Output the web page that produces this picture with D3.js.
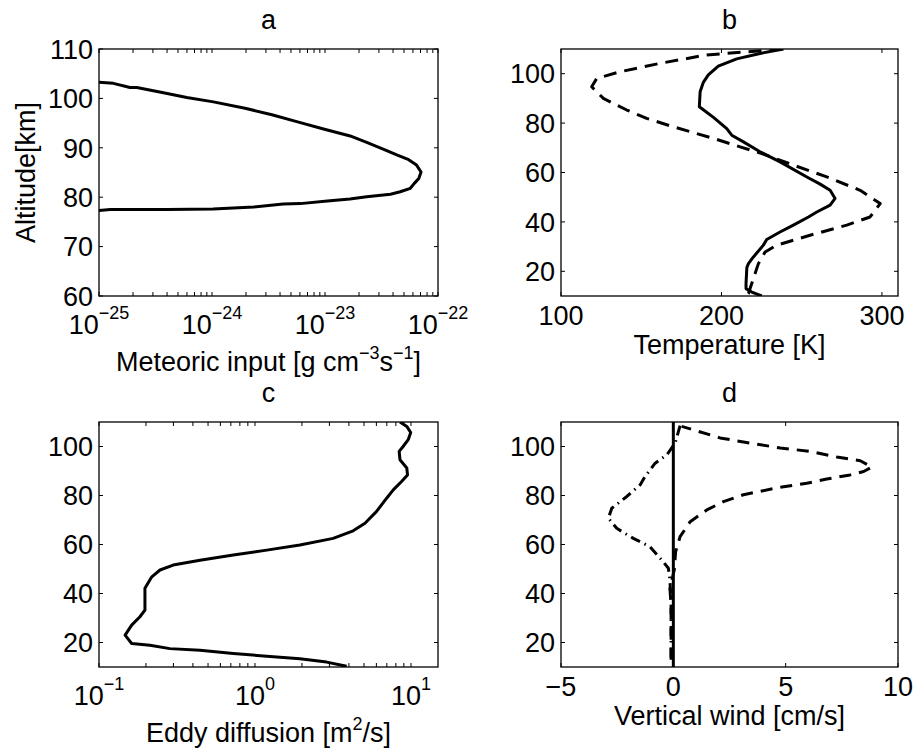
<!DOCTYPE html>
<html>
<head>
<meta charset="utf-8">
<script src="https://cdn.jsdelivr.net/npm/d3@7"></script>
<style>
  html, body { margin: 0; padding: 0; background: #fff; }
  text { font-family: "Liberation Sans", Arial, Helvetica, sans-serif; fill: #000; }
</style>
</head>
<body>
<svg id="chart" width="916" height="748"></svg>
<script>
// ---------- DATA ----------
// Panel a: meteoric input vs altitude
const metAlt   = [103.25,103.05,102.2,102.2,101.15,100.2,99.3,98.0,96.7,95.3,93.8,92.4,91.1,89.7,88.5,87.6,86.5,85.1,83.8,82.8,81.8,81.1,80.6,80.1,79.65,79.25,78.7,78.6,78.0,77.6,77.5,77.5,77.3];
const metInput = [1.0e-25,1.34e-25,1.88e-25,2.16e-25,3.72e-25,5.98e-25,1.03e-24,1.96e-24,3.39e-24,5.62e-24,9.7e-24,1.67e-23,2.34e-23,3.31e-23,4.37e-23,5.5e-23,6.46e-23,7.08e-23,6.76e-23,6.17e-23,5.69e-23,4.63e-23,3.8e-23,2.34e-23,1.66e-23,1.05e-23,6.03e-24,4.27e-24,2.34e-24,1.02e-24,3.98e-25,1.26e-25,1.0e-25];
const metTicks = [1e-25,1e-24,1e-23,1e-22];
const metTickExp = ["\u221225","\u221224","\u221223","\u221222"];
const altTicksA = [60,70,80,90,100,110];

// Panel b: temperature (solid and dashed)
const tempSolidAlt = [110,108.2,106,103.1,99.5,96.5,92.7,86.6,82.3,77.8,75.1,72.4,68.4,64.3,58.2,55.3,52.8,49.5,46.8,44,42,38.7,35.9,32.9,30.6,25.8,23.1,21.5,15,13,11.6,10];
const tempSolid    = [238.6,224,209.5,198,191.8,188.7,186.7,186.2,195,203.3,206.4,213.7,224,236.5,253.2,261.5,267.7,270.8,267.7,259.4,254.2,244.8,236.5,228.2,226.1,219.9,216.8,215.8,215.3,215.3,218.9,225.1];
const tempDashAlt  = [110,109.1,107.6,104.2,100.8,98.1,94.7,90,85.3,81.9,78.5,73.8,70.4,67.7,63,58.2,52.8,47.4,42,38.7,34.6,30.6,27.8,23.1,17.1,11,10];
const tempDash     = [238,221,190.8,161.7,136.8,122.3,119.1,126.4,141,153.4,170,195,211.6,225.1,244.8,265.6,286.4,298.9,292.6,278.1,255.2,234.5,227.2,223,219.9,216.8,215.5];
const tempTicks = [100,200,300];
const altTicks = [20,40,60,80,100];

// Panel c: eddy diffusion
const kzzAlt = [110,108.2,105.7,102.8,100,98,94.6,91.2,88.4,85.7,82.3,78.9,73.4,68.7,65.6,62.5,59.8,57.7,55.7,53.6,51.6,49.6,46.8,42.1,33.2,30.5,27.1,23,19.6,18.9,17.5,16.8,15.5,14.4,13.4,12,10.3];
const kzz    = [8.5,9.4,9.96,9.6,8.9,8.4,8.5,9.4,9.5,8.7,7.7,6.98,6.0,5.07,4.26,3.17,1.94,1.19,0.726,0.444,0.299,0.246,0.218,0.197,0.197,0.183,0.162,0.147,0.162,0.212,0.285,0.444,0.726,1.19,1.94,2.88,3.87];
const kzzTicks = [0.1,1,10];
const kzzTickExp = ["\u22121","0","1"];

// Panel d: vertical wind
const windSolidAlt = [10,110];
const windSolid    = [0,0];
const windDashAlt  = [13,25,35,42,50,57,63.2,69.3,74.1,77.5,80.3,83.4,85,86.7,88.4,89.8,91.6,94.2,95.7,98,99.4,101.4,103.5,106.8,108.2];
const windDash     = [-0.1,-0.1,-0.1,-0.15,0.05,0.1,0.3,0.75,1.49,2.23,3.12,4.76,5.94,6.83,7.87,8.47,8.84,8.32,7.28,6.09,4.76,3.42,2.08,0.89,0.37];
const windDotAlt   = [108.5,101.4,96.6,93.2,87.7,84.3,79.6,74.8,70.7,66.6,62.5,59.1,53.7,50.3,45.5,35,20,12];
const windDot      = [0.3,0.08,-0.29,-0.81,-1.26,-1.48,-2.07,-2.74,-2.89,-2.52,-1.78,-1.04,-0.52,-0.22,-0.15,-0.1,-0.1,-0.1];
const windTicks = [-5,0,5,10];
const windTickLabels = ["\u22125","0","5","10"];

// ---------- DRAW ----------
const svg = d3.select("#chart");
const FS = 27, FSUP = 18, TICK = 4;

function panel(cfg) {
  const {id, x0, x1, y0, y1, xScale, yScale} = cfg;
  const g = svg.append("g");
  g.append("clipPath").attr("id", "clip-" + id)
    .append("rect").attr("x", x0).attr("y", y0).attr("width", x1 - x0).attr("height", y1 - y0);

  const plot = g.append("g").attr("clip-path", `url(#clip-${id})`);
  cfg.series.forEach(s => {
    const pts = s.x.map((v, i) => [v, s.y[i]]);
    plot.append("path")
      .attr("d", d3.line().x(d => xScale(d[0])).y(d => yScale(d[1]))(pts))
      .attr("fill", "none").attr("stroke", "#000")
      .attr("stroke-width", s.w || 3)
      .attr("stroke-linejoin", "round")
      .attr("stroke-dasharray", s.dash || null);
  });

  const tg = g.append("g").attr("stroke", "#000").attr("stroke-width", 1);
  const xt = cfg.xTicks.concat(cfg.xMinor || []);
  xt.forEach(v => {
    const x = xScale(v);
    if (x < x0 - 0.5 || x > x1 + 0.5) return;
    tg.append("line").attr("x1", x).attr("x2", x).attr("y1", y1).attr("y2", y1 - TICK);
    tg.append("line").attr("x1", x).attr("x2", x).attr("y1", y0).attr("y2", y0 + TICK);
  });
  cfg.yTicks.forEach(v => {
    const y = yScale(v);
    tg.append("line").attr("x1", x0).attr("x2", x0 + TICK).attr("y1", y).attr("y2", y);
    tg.append("line").attr("x1", x1).attr("x2", x1 - TICK).attr("y1", y).attr("y2", y);
  });

  g.append("rect").attr("x", x0).attr("y", y0).attr("width", x1 - x0).attr("height", y1 - y0)
    .attr("fill", "none").attr("stroke", "#000").attr("stroke-width", 1.3);

  cfg.yTicks.forEach(v => {
    g.append("text").attr("x", x0 - 6).attr("y", yScale(v)).attr("dy", "0.36em")
      .attr("text-anchor", "end").attr("font-size", FS).text(v);
  });

  cfg.xTicks.forEach((v, i) => {
    const t = g.append("text").attr("x", xScale(v)).attr("text-anchor", "middle").attr("font-size", FS);
    if (cfg.xExp) {
      t.attr("y", y1 + 38);
      t.append("tspan").text("10");
      t.append("tspan").attr("font-size", FSUP).attr("dy", -15).text(cfg.xExp[i]);
    } else {
      t.attr("y", y1 + 29).text(cfg.xLabels ? cfg.xLabels[i] : v);
    }
  });

  const xl = g.append("text").attr("x", (x0 + x1) / 2).attr("y", y1 + (cfg.xExp ? 75 : 58))
    .attr("text-anchor", "middle").attr("font-size", FS);
  cfg.xLabel.forEach(p => {
    const ts = xl.append("tspan").text(p.t);
    if (p.sup) ts.attr("font-size", FSUP).attr("dy", -12);
    if (p.down) ts.attr("dy", 12);
  });

  g.append("text").attr("x", (x0 + x1) / 2).attr("y", y0 - 20)
    .attr("text-anchor", "middle").attr("font-size", FS).text(cfg.title);
  return g;
}

function logMinor(lo, hi) {
  const out = [];
  for (let e = Math.floor(Math.log10(lo)); e <= Math.ceil(Math.log10(hi)); e++) {
    for (let k = 2; k <= 9; k++) {
      const v = k * Math.pow(10, e);
      if (v >= lo && v <= hi) out.push(v);
    }
  }
  return out;
}

// Panel a
const ax = {x0: 99, x1: 438, y0: 49, y1: 296};
const xA = d3.scaleLog().domain([1e-25, 1e-22]).range([ax.x0, ax.x1]);
const yA = d3.scaleLinear().domain([60, 110]).range([ax.y1, ax.y0]);
panel({id: "a", ...ax, xScale: xA, yScale: yA, title: "a",
  xTicks: metTicks, xMinor: logMinor(1e-25, 1e-22), xExp: metTickExp, yTicks: altTicksA,
  xLabel: [{t: "Meteoric input [g cm"}, {t: "\u22123", sup: true}, {t: "s", down: true}, {t: "\u22121", sup: true}, {t: "]", down: true}],
  series: [{x: metInput, y: metAlt}]});
svg.append("text").attr("transform", `translate(35,${(ax.y0 + ax.y1) / 2}) rotate(-90)`)
  .attr("text-anchor", "middle").attr("font-size", FS).text("Altitude[km]");

// Panel b
const bx = {x0: 561, x1: 898, y0: 49, y1: 296};
const xB = d3.scaleLinear().domain([100, 310]).range([bx.x0, bx.x1]);
const yB = d3.scaleLinear().domain([10, 110]).range([bx.y1, bx.y0]);
panel({id: "b", ...bx, xScale: xB, yScale: yB, title: "b",
  xTicks: tempTicks, yTicks: altTicks,
  xLabel: [{t: "Temperature [K]"}],
  series: [{x: tempSolid, y: tempSolidAlt}, {x: tempDash, y: tempDashAlt, dash: "13,8"}]});

// Panel c
const cx = {x0: 99, x1: 438, y0: 422, y1: 667};
const xC = d3.scaleLog().domain([0.1, 14.9]).range([cx.x0, cx.x1]);
const yC = d3.scaleLinear().domain([10, 110]).range([cx.y1, cx.y0]);
panel({id: "c", ...cx, xScale: xC, yScale: yC, title: "c",
  xTicks: kzzTicks, xMinor: logMinor(0.1, 14.9), xExp: kzzTickExp, yTicks: altTicks,
  xLabel: [{t: "Eddy diffusion [m"}, {t: "2", sup: true}, {t: "/s]", down: true}],
  series: [{x: kzz, y: kzzAlt}]});

// Panel d
const dx = {x0: 561, x1: 898, y0: 422, y1: 667};
const xD = d3.scaleLinear().domain([-5, 10]).range([dx.x0, dx.x1]);
const yD = d3.scaleLinear().domain([10, 110]).range([dx.y1, dx.y0]);
panel({id: "d", ...dx, xScale: xD, yScale: yD, title: "d",
  xTicks: windTicks, xLabels: windTickLabels, yTicks: altTicks,
  xLabel: [{t: "Vertical wind [cm/s]"}],
  series: [{x: windSolid, y: windSolidAlt},
           {x: windDash, y: windDashAlt, dash: "12,8"},
           {x: windDot, y: windDotAlt, dash: "10,5,1.5,5"}]});
</script>
</body>
</html>
